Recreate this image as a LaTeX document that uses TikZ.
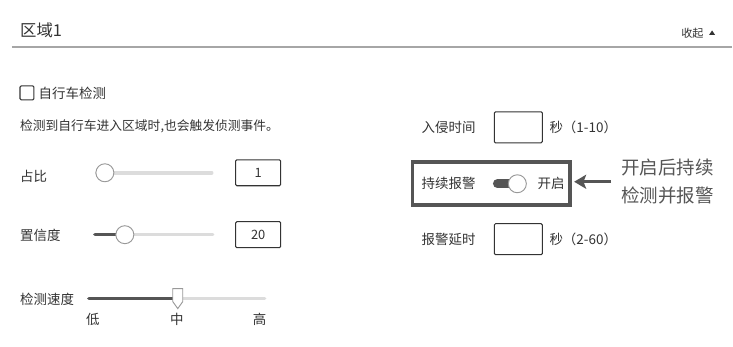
\documentclass[tikz,border=0pt]{standalone}
\usepackage{fontspec}
\setmainfont{Noto Sans CJK SC}
\usetikzlibrary{arrows.meta,positioning}
\definecolor{txt}{HTML}{333333}
\definecolor{trk}{HTML}{DCDCDC}
\definecolor{dark}{HTML}{555555}
\tikzset{
  lbl/.style={anchor=west, inner sep=0pt, text=txt, font=\fontsize{11.5}{13}\selectfont},
  title/.style={lbl, font=\fontsize{14}{16}\selectfont},
  small/.style={lbl, font=\fontsize{9.5}{11}\selectfont},
  inbox/.style={draw=txt, line width=0.9pt, rounded corners=1pt, inner sep=0pt,
    text=txt, font=\fontsize{11}{12}\selectfont},
  track/.style={line width=3pt, draw=trk, line cap=round},
  fill track/.style={line width=3pt, draw=dark, line cap=round},
  knob/.style={circle, draw=gray!80, line width=0.8pt, fill=white, inner sep=0pt, minimum size=0.54cm},
}
\begin{document}
\begin{tikzpicture}[x=0.03cm,y=-0.03cm]
		\fill[white] (0,0) rectangle (733,347);
		% header
		\node[title] (area) at (20,30) {区域1};
		\node[small] (fold) at (682,33) {收起};
		\fill[txt] (710,35) -- (716,35) -- (713,30.5) -- cycle;
		\draw[gray!70, line width=1.6pt] (12,47) -- (733,47);
		
		% left column
		\node[draw=txt, line width=0.9pt, rounded corners=1pt, inner sep=0pt, minimum size=0.42cm] (bikechk) at (27,93) {};
		\node[lbl, right=0.12cm of bikechk] (bike) {自行车检测};
		\node[lbl, font=\fontsize{10.9}{12}\selectfont] (hint) at (20,126) {检测到自行车进入区域时,也会触发侦测事件。};
		
		\node[lbl] (ratio) at (20,177) {占比};
		\draw[track] (97,173) -- (212,173);
		\node[knob] (ratioknob) at (105,173) {};
		\node[inbox, minimum width=1.35cm, minimum height=0.78cm] (ratioval) at (258.5,173) {1};
		
		\node[lbl] (conf) at (20,236) {置信度};
		\draw[track] (125,235) -- (213,235);
		\draw[fill track] (95,235) -- (120,235);
		\node[knob] (confknob) at (125,235) {};
		\node[inbox, minimum width=1.35cm, minimum height=0.78cm] (confval) at (258.5,235) {20};
		
		\node[lbl] (speed) at (20,300) {检测速度};
		\draw[track] (89,299) -- (265,299);
		\draw[fill track] (89,299) -- (176,299);
		\draw[gray!80, line width=0.8pt, fill=white] (173,289) -- (183,289) -- (183,302) -- (178,309) -- (173,302) -- cycle;
		\node[lbl, anchor=center] (low) at (93,320) {低};
		\node[lbl, anchor=center] (mid) at (177,320) {中};
		\node[lbl, anchor=center] (high) at (260,320) {高};
		
		% right column
		\node[lbl] (intrude) at (422,128) {入侵时间};
		\node[inbox, minimum width=1.44cm, minimum height=0.93cm] (intrudeval) at (519,127.5) {};
		\node[lbl] (intrudeunit) at (550,128) {秒（1-10）};
		
		\node[draw=dark, line width=3.2pt, inner sep=0pt, minimum width=4.74cm, minimum height=1.29cm] (alarm) at (492,183.5) {};
		\node[lbl] (keep) at (422,184) {持续报警};
		\draw[dark, line width=7.5pt, line cap=round] (498,184) -- (516,184);
		\node[knob] (keepknob) at (518,184) {};
		\node[lbl] (on) at (538,184) {开启};
		
		\node[lbl] (delay) at (422,240) {报警延时};
		\node[inbox, minimum width=1.44cm, minimum height=0.93cm] (delayval) at (519,239.5) {};
		\node[lbl] (delayunit) at (550,240) {秒（2-60）};
		
		% callout
		\node[lbl, align=left, text=dark, font=\fontsize{15.8}{24}\selectfont] (note) at (622,182) {开启后持续\\检测并报警};
		\draw[dark, line width=2.5pt, -{Stealth[length=0.36cm, width=0.42cm, inset=0.08cm]}, shorten <=0.3cm, shorten >=0.06cm] (note.west) -- (alarm.east |- note.west);
	    \end{tikzpicture}
\end{document}
